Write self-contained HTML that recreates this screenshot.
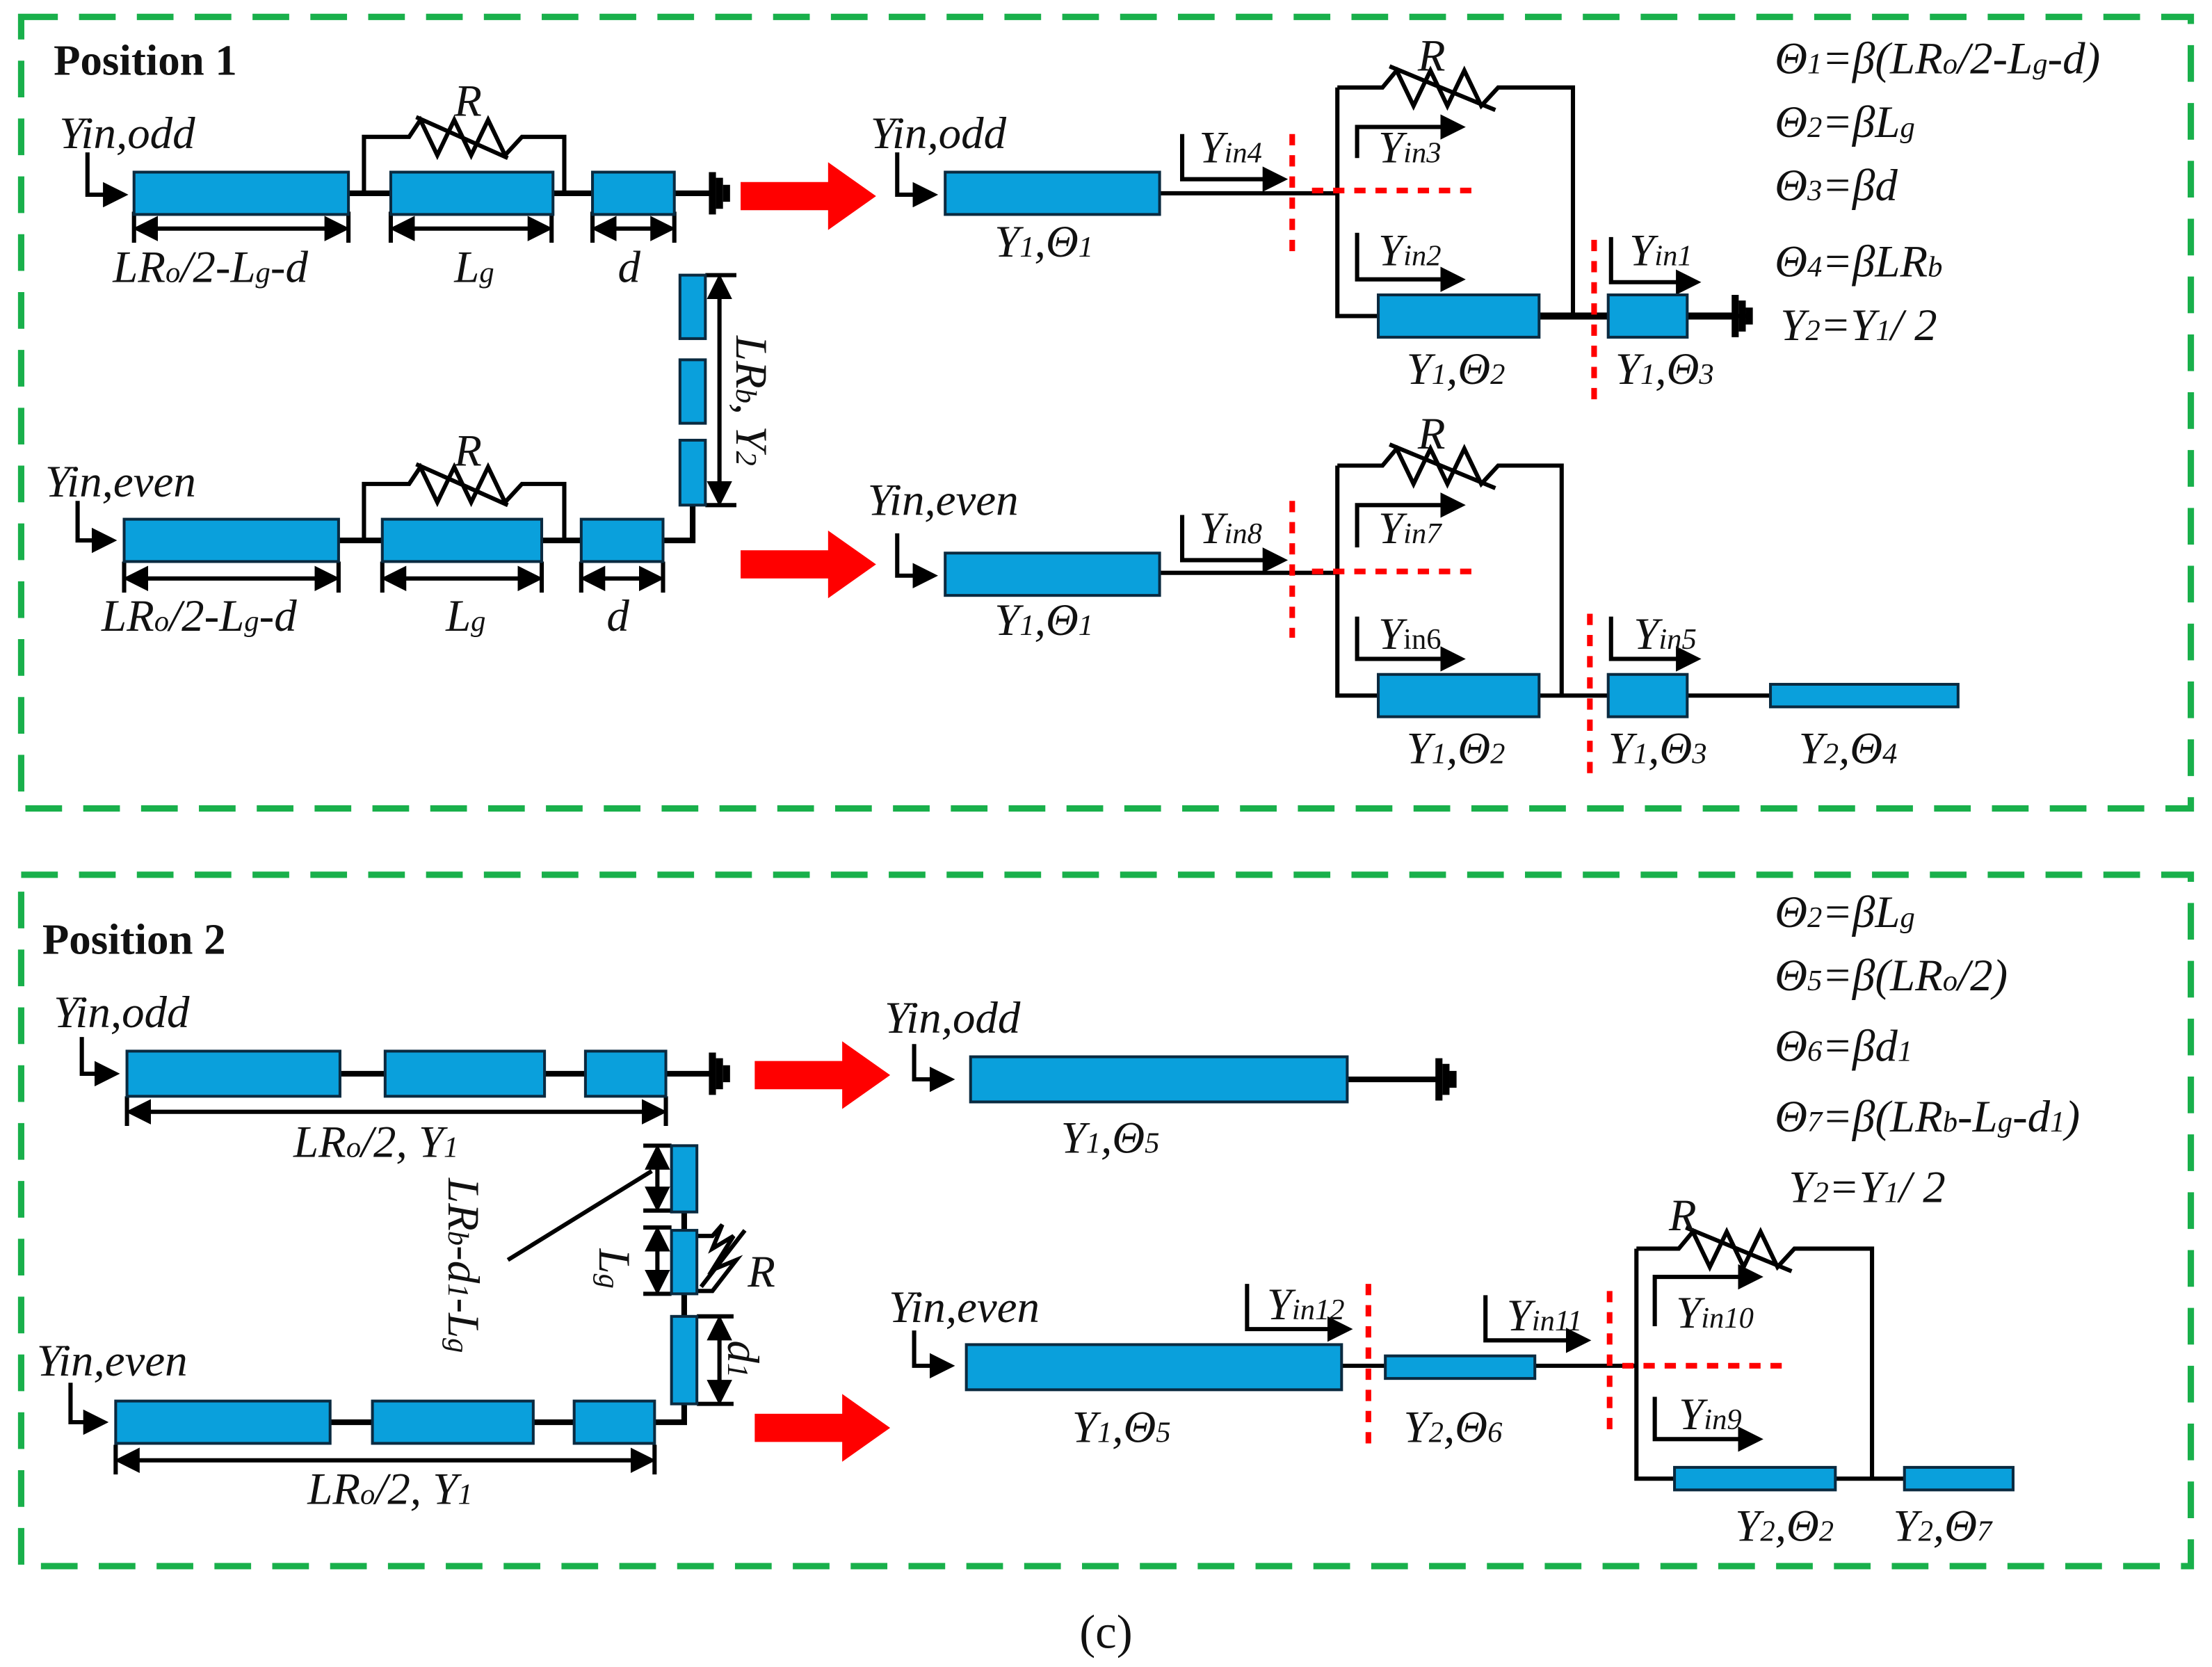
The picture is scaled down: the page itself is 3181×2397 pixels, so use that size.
<!DOCTYPE html>
<html><head><meta charset="utf-8"><style>
html,body{margin:0;padding:0;background:#fff}
svg{display:block}
text{font-family:"Liberation Serif",serif;font-style:italic;fill:#111}
.b{font-style:normal;font-weight:bold}
.s{font-size:21px}
.t rect{fill:#0aa0dc;stroke:#0a2a40;stroke-width:2}
</style></head><body>
<svg width="3181" height="2397" viewBox="0 0 1568 1181.5" preserveAspectRatio="none" xmlns="http://www.w3.org/2000/svg">
<defs>
<marker id="a" markerWidth="6" markerHeight="6" refX="5" refY="3" orient="auto" markerUnits="strokeWidth"><path d="M0,0 L6,3 L0,6 z" fill="#000"/></marker>
<marker id="a2" markerWidth="6" markerHeight="6" refX="1" refY="3" orient="auto" markerUnits="strokeWidth"><path d="M6,0 L0,3 L6,6 z" fill="#000"/></marker>
<g id="gnd"><line x1="0" y1="-15" x2="0" y2="15" stroke="#000" stroke-width="5"/><line x1="5" y1="-11" x2="5" y2="11" stroke="#000" stroke-width="5"/><line x1="10" y1="-6" x2="10" y2="6" stroke="#000" stroke-width="5"/></g>
<polygon id="ra" points="0,-10 62,-10 62,-24 96,0 62,24 62,10 0,10" fill="#f00"/>
</defs>

<rect x="15" y="12" width="1538" height="561" fill="none" stroke="#19b04b" stroke-width="4.5" stroke-dasharray="26,15"/>
<rect x="15" y="620" width="1538" height="490" fill="none" stroke="#19b04b" stroke-width="4.5" stroke-dasharray="26,15"/>

<g stroke="#000" stroke-width="3" fill="none">
<line x1="95" y1="137" x2="505" y2="137" stroke-width="4"/>
<polyline points="62,108 62,138 88,138" marker-end="url(#a)"/>
<polyline points="258,137 258,97 290,97 298,85 310,110 322,85 334,110 346,85 358,110 370,97 400,97 400,137"/>
<line x1="295" y1="83" x2="360" y2="112"/>
<line x1="97" y1="162" x2="245" y2="162" marker-start="url(#a2)" marker-end="url(#a)"/>
<line x1="279" y1="162" x2="389" y2="162" marker-start="url(#a2)" marker-end="url(#a)"/>
<line x1="422" y1="162" x2="476" y2="162" marker-start="url(#a2)" marker-end="url(#a)"/>
<line x1="95" y1="150" x2="95" y2="172"/><line x1="247" y1="150" x2="247" y2="172"/><line x1="277" y1="150" x2="277" y2="172"/><line x1="391" y1="150" x2="391" y2="172"/><line x1="420" y1="150" x2="420" y2="172"/><line x1="478" y1="150" x2="478" y2="172"/>
<polyline points="491,358 491,383 88,383" stroke-width="4"/>
<line x1="510" y1="197" x2="510" y2="356" marker-start="url(#a2)" marker-end="url(#a)"/>
<line x1="500" y1="195" x2="522" y2="195"/><line x1="500" y1="358" x2="522" y2="358"/>
<polyline points="55,355 55,383 80,383" marker-end="url(#a)"/>
<polyline points="258,383 258,343 290,343 298,331 310,356 322,331 334,356 346,331 358,356 370,343 400,343 400,383"/>
<line x1="295" y1="329" x2="360" y2="358"/>
<line x1="90" y1="410" x2="238" y2="410" marker-start="url(#a2)" marker-end="url(#a)"/>
<line x1="273" y1="410" x2="382" y2="410" marker-start="url(#a2)" marker-end="url(#a)"/>
<line x1="414" y1="410" x2="468" y2="410" marker-start="url(#a2)" marker-end="url(#a)"/>
<line x1="88" y1="398" x2="88" y2="420"/><line x1="240" y1="398" x2="240" y2="420"/><line x1="271" y1="398" x2="271" y2="420"/><line x1="384" y1="398" x2="384" y2="420"/><line x1="412" y1="398" x2="412" y2="420"/><line x1="470" y1="398" x2="470" y2="420"/>

<polyline points="636,108 636,138 662,138" marker-end="url(#a)"/>
<line x1="822" y1="137" x2="948" y2="137"/>
<polyline points="838,95 838,127 910,127" marker-end="url(#a)"/>
<polyline points="948,62 948,224 1240,224" />
<line x1="1091" y1="224" x2="1230" y2="224" stroke-width="5"/>
<polyline points="948,62 980,62 990,50 1002,75 1014,50 1026,75 1038,50 1050,75 1062,62 1115,62 1115,224"/>
<line x1="985" y1="47" x2="1060" y2="78"/>
<polyline points="962,112 962,90 1036,90" marker-end="url(#a)"/>
<polyline points="962,165 962,198 1036,198" marker-end="url(#a)"/>
<polyline points="1142,168 1142,200 1203,200" marker-end="url(#a)"/>

<polyline points="636,378 636,408 662,408" marker-end="url(#a)"/>
<line x1="822" y1="406" x2="948" y2="406"/>
<polyline points="838,365 838,397 910,397" marker-end="url(#a)"/>
<polyline points="948,330 948,493 1255,493" />
<polyline points="948,330 980,330 990,318 1002,343 1014,318 1026,343 1038,318 1050,343 1062,330 1107,330 1107,493"/>
<line x1="985" y1="315" x2="1060" y2="346"/>
<polyline points="962,388 962,358 1036,358" marker-end="url(#a)"/>
<polyline points="962,437 962,467 1036,467" marker-end="url(#a)"/>
<polyline points="1142,437 1142,467 1203,467" marker-end="url(#a)"/>

<line x1="90" y1="761" x2="505" y2="761" stroke-width="4"/>
<polyline points="58,735 58,761 82,761" marker-end="url(#a)"/>
<line x1="92" y1="788" x2="470" y2="788" marker-start="url(#a2)" marker-end="url(#a)"/>
<line x1="90" y1="777" x2="90" y2="798"/><line x1="472" y1="777" x2="472" y2="798"/>
<polyline points="485,995 485,1008 82,1008" stroke-width="4"/>
<line x1="485" y1="859" x2="485" y2="872" stroke-width="4"/><line x1="485" y1="917" x2="485" y2="933" stroke-width="4"/>
<polyline points="50,980 50,1008 74,1008" marker-end="url(#a)"/>
<line x1="84" y1="1035" x2="462" y2="1035" marker-start="url(#a2)" marker-end="url(#a)"/>
<line x1="82" y1="1024" x2="82" y2="1045"/><line x1="464" y1="1024" x2="464" y2="1045"/>
<line x1="466" y1="814" x2="466" y2="856" marker-start="url(#a2)" marker-end="url(#a)"/>
<line x1="466" y1="872" x2="466" y2="915" marker-start="url(#a2)" marker-end="url(#a)"/>
<line x1="456" y1="812" x2="476" y2="812"/><line x1="456" y1="858" x2="476" y2="858"/><line x1="456" y1="870" x2="476" y2="870"/><line x1="456" y1="917" x2="476" y2="917"/>
<line x1="510" y1="935" x2="510" y2="993" marker-start="url(#a2)" marker-end="url(#a)"/>
<line x1="494" y1="933" x2="520" y2="933"/><line x1="494" y1="995" x2="520" y2="995"/>
<line x1="360" y1="893" x2="462" y2="830"/>
<polyline points="494,876 505,876 512,868 505,885 520,876 505,900 522,893 505,915 494,915"/>
<line x1="497" y1="912" x2="528" y2="872"/>

<polyline points="648,740 648,765 674,765" marker-end="url(#a)"/>
<line x1="955" y1="765" x2="1020" y2="765" stroke-width="4"/>
<polyline points="648,943 648,968 674,968" marker-end="url(#a)"/>
<line x1="951" y1="968" x2="1160" y2="968"/>
<polyline points="884,910 884,942 956,942" marker-end="url(#a)"/>
<polyline points="1053,918 1053,950 1125,950" marker-end="url(#a)"/>
<polyline points="1160,885 1160,1048 1427,1048"/>
<polyline points="1160,885 1190,885 1200,873 1212,898 1224,873 1236,898 1248,873 1260,898 1272,885 1327,885 1327,1048"/>
<line x1="1195" y1="870" x2="1270" y2="901"/>
<polyline points="1173,940 1173,905 1247,905" marker-end="url(#a)"/>
<polyline points="1173,990 1173,1020 1247,1020" marker-end="url(#a)"/>
</g>

<use href="#gnd" x="505" y="137"/>
<use href="#gnd" x="1230" y="224"/>
<use href="#gnd" x="505" y="761"/>
<use href="#gnd" x="1020" y="765"/>

<use href="#ra" x="525" y="139"/>
<use href="#ra" x="525" y="400"/>
<use href="#ra" x="535" y="762"/>
<use href="#ra" x="535" y="1012"/>

<g class="t">
<rect x="95" y="122" width="152" height="30"/><rect x="277" y="122" width="115" height="30"/><rect x="420" y="122" width="58" height="30"/>
<rect x="482" y="195" width="18" height="45"/><rect x="482" y="255" width="18" height="45"/><rect x="482" y="312" width="18" height="46"/>
<rect x="88" y="368" width="152" height="30"/><rect x="271" y="368" width="113" height="30"/><rect x="412" y="368" width="58" height="30"/>
<rect x="670" y="122" width="152" height="30"/>
<rect x="977" y="209" width="114" height="30"/><rect x="1140" y="209" width="56" height="30"/>
<rect x="670" y="392" width="152" height="30"/>
<rect x="977" y="478" width="114" height="30"/><rect x="1140" y="478" width="56" height="30"/><rect x="1255" y="485" width="133" height="16"/>
<rect x="90" y="745" width="151" height="32"/><rect x="273" y="745" width="113" height="32"/><rect x="415" y="745" width="57" height="32"/>
<rect x="476" y="812" width="18" height="47"/><rect x="476" y="872" width="18" height="45"/><rect x="476" y="933" width="18" height="62"/>
<rect x="82" y="993" width="152" height="30"/><rect x="264" y="993" width="114" height="30"/><rect x="407" y="993" width="57" height="30"/>
<rect x="688" y="749" width="267" height="32"/>
<rect x="685" y="953" width="266" height="32"/><rect x="982" y="961" width="106" height="16"/>
<rect x="1187" y="1040" width="114" height="16"/><rect x="1350" y="1040" width="77" height="16"/>
</g>

<g stroke="#f00" stroke-width="4" stroke-dasharray="8,7" fill="none">
<line x1="916" y1="95" x2="916" y2="182"/><line x1="930" y1="135" x2="1048" y2="135"/>
<line x1="1130" y1="170" x2="1130" y2="287"/>
<line x1="916" y1="355" x2="916" y2="452"/><line x1="930" y1="405" x2="1048" y2="405"/>
<line x1="1127" y1="435" x2="1127" y2="552"/>
<line x1="970" y1="910" x2="970" y2="1027"/>
<line x1="1141" y1="915" x2="1141" y2="1017"/><line x1="1150" y1="968" x2="1265" y2="968"/>
</g>

<g font-size="32">
<text x="38" y="53" class="b" font-size="31">Position 1</text>
<text x="30" y="676" class="b" font-size="31">Position 2</text>
<text x="42" y="105">Yin,odd</text>
<text x="322" y="82">R</text>
<text x="80" y="200">LR<tspan class="s">o</tspan>/2-L<tspan class="s">g</tspan>-d</text>
<text x="322" y="200">L<tspan class="s">g</tspan></text>
<text x="438" y="200">d</text>
<text transform="translate(522,238) rotate(90)">LR<tspan class="s">b</tspan>, Y<tspan class="s">2</tspan></text>
<text x="32" y="352">Yin,even</text>
<text x="322" y="330">R</text>
<text x="72" y="447">LR<tspan class="s">o</tspan>/2-L<tspan class="s">g</tspan>-d</text>
<text x="316" y="447">L<tspan class="s">g</tspan></text>
<text x="430" y="447">d</text>

<text x="617" y="105">Yin,odd</text>
<text x="850" y="115">Y<tspan class="s">in4</tspan></text>
<text x="1005" y="50">R</text>
<text x="977" y="115">Y<tspan class="s">in3</tspan></text>
<text x="977" y="188">Y<tspan class="s">in2</tspan></text>
<text x="1155" y="188">Y<tspan class="s">in1</tspan></text>
<text x="705" y="182">Y<tspan class="s">1</tspan>,Θ<tspan class="s">1</tspan></text>
<text x="997" y="272">Y<tspan class="s">1</tspan>,Θ<tspan class="s">2</tspan></text>
<text x="1145" y="272">Y<tspan class="s">1</tspan>,Θ<tspan class="s">3</tspan></text>

<text x="615" y="365">Yin,even</text>
<text x="850" y="385">Y<tspan class="s">in8</tspan></text>
<text x="1005" y="318">R</text>
<text x="977" y="385">Y<tspan class="s">in7</tspan></text>
<text x="977" y="460">Y<tspan class="s" style="font-style:normal">in6</tspan></text>
<text x="1158" y="460">Y<tspan class="s">in5</tspan></text>
<text x="705" y="450">Y<tspan class="s">1</tspan>,Θ<tspan class="s">1</tspan></text>
<text x="997" y="541">Y<tspan class="s">1</tspan>,Θ<tspan class="s">2</tspan></text>
<text x="1140" y="541">Y<tspan class="s">1</tspan>,Θ<tspan class="s">3</tspan></text>
<text x="1275" y="541">Y<tspan class="s">2</tspan>,Θ<tspan class="s">4</tspan></text>

<text x="1258" y="52">Θ<tspan class="s">1</tspan>=β(LR<tspan class="s">o</tspan>/2-L<tspan class="s">g</tspan>-d)</text>
<text x="1258" y="97">Θ<tspan class="s">2</tspan>=βL<tspan class="s">g</tspan></text>
<text x="1258" y="142">Θ<tspan class="s">3</tspan>=βd</text>
<text x="1258" y="196">Θ<tspan class="s">4</tspan>=βLR<tspan class="s">b</tspan></text>
<text x="1262" y="241">Y<tspan class="s">2</tspan>=Y<tspan class="s">1</tspan>/ 2</text>

<text x="38" y="728">Yin,odd</text>
<text x="208" y="820">LR<tspan class="s">o</tspan>/2, Y<tspan class="s">1</tspan></text>
<text transform="translate(318,835) rotate(90)">LR<tspan class="s">b</tspan>-d<tspan class="s">1</tspan>-L<tspan class="s">g</tspan></text>
<text transform="translate(425,885) rotate(90)">L<tspan class="s">g</tspan></text>
<text x="530" y="912">R</text>
<text transform="translate(516,950) rotate(90)">d<tspan class="s">1</tspan></text>
<text x="26" y="975">Yin,even</text>
<text x="218" y="1066">LR<tspan class="s">o</tspan>/2, Y<tspan class="s">1</tspan></text>

<text x="627" y="732">Yin,odd</text>
<text x="752" y="817">Y<tspan class="s">1</tspan>,Θ<tspan class="s">5</tspan></text>
<text x="630" y="937">Yin,even</text>
<text x="898" y="935">Y<tspan class="s">in12</tspan></text>
<text x="1068" y="943">Y<tspan class="s">in11</tspan></text>
<text x="1183" y="872">R</text>
<text x="1188" y="941">Y<tspan class="s">in10</tspan></text>
<text x="1190" y="1013">Y<tspan class="s">in9</tspan></text>
<text x="760" y="1022">Y<tspan class="s">1</tspan>,Θ<tspan class="s">5</tspan></text>
<text x="995" y="1022">Y<tspan class="s">2</tspan>,Θ<tspan class="s">6</tspan></text>
<text x="1230" y="1092">Y<tspan class="s">2</tspan>,Θ<tspan class="s">2</tspan></text>
<text x="1342" y="1092">Y<tspan class="s">2</tspan>,Θ<tspan class="s">7</tspan></text>

<text x="1258" y="657">Θ<tspan class="s">2</tspan>=βL<tspan class="s">g</tspan></text>
<text x="1258" y="702">Θ<tspan class="s">5</tspan>=β(LR<tspan class="s">o</tspan>/2)</text>
<text x="1258" y="752">Θ<tspan class="s">6</tspan>=βd<tspan class="s">1</tspan></text>
<text x="1258" y="802">Θ<tspan class="s">7</tspan>=β(LR<tspan class="s">b</tspan>-L<tspan class="s">g</tspan>-d<tspan class="s">1</tspan>)</text>
<text x="1268" y="852">Y<tspan class="s">2</tspan>=Y<tspan class="s">1</tspan>/ 2</text>

<text x="784" y="1168" text-anchor="middle" style="font-style:normal" font-size="34">(c)</text>
</g>
</svg>
</body></html>
